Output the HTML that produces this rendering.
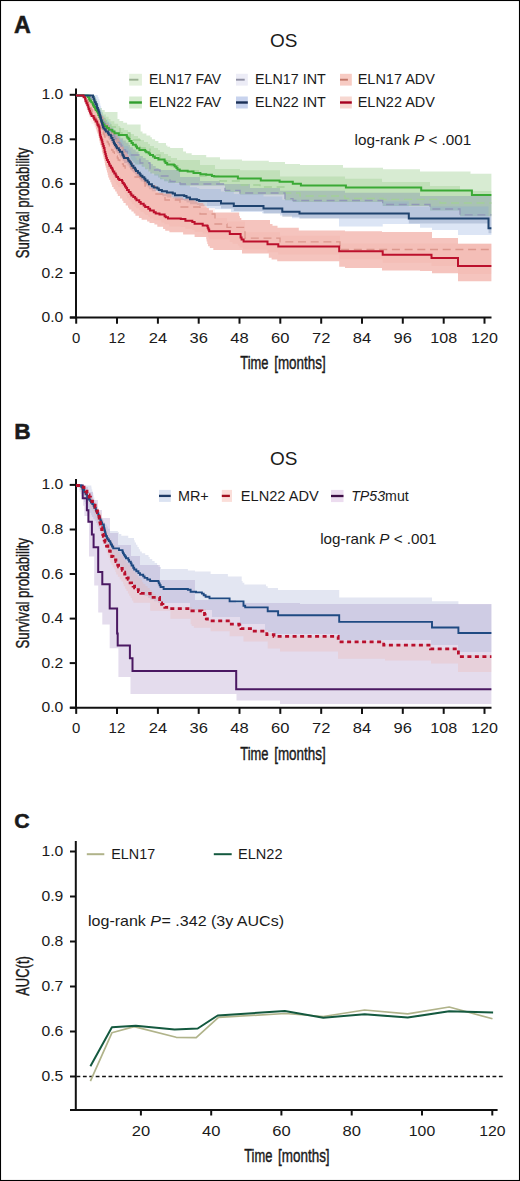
<!DOCTYPE html><html><head><meta charset="utf-8"><style>
html,body{margin:0;padding:0;background:#fff;}
svg{display:block;}
text{font-family:"Liberation Sans", sans-serif;fill:#1a1a1a;}
.c{font-family:"Liberation Sans", sans-serif;}
</style></head><body>
<svg width="520" height="1181" viewBox="0 0 520 1181">
<rect x="0" y="0" width="520" height="1181" fill="#fff"/>
<text x="13.9" y="33.4" font-size="23.0" text-anchor="start" font-weight="bold" font-style="normal" textLength="16.8" lengthAdjust="spacingAndGlyphs" stroke="#1a1a1a" stroke-width="0.50" >A</text>
<text x="14.3" y="438.6" font-size="21.5" text-anchor="start" font-weight="bold" font-style="normal" textLength="16.4" lengthAdjust="spacingAndGlyphs" stroke="#1a1a1a" stroke-width="0.50" >B</text>
<text x="14.3" y="828.4" font-size="20.5" text-anchor="start" font-weight="bold" font-style="normal" textLength="15.4" lengthAdjust="spacingAndGlyphs" stroke="#1a1a1a" stroke-width="0.50" >C</text>
<path d="M76.0 88.5 V318.5" stroke="#111" stroke-width="2" fill="none"/>
<path d="M70 317.5 H491.5" stroke="#111" stroke-width="2" fill="none"/>
<path d="M69.7 317.5 H76" stroke="#111" stroke-width="2"/>
<text x="63.3" y="322.0" font-size="15.3" text-anchor="end" font-weight="normal" font-style="normal" textLength="21.8" lengthAdjust="spacingAndGlyphs" >0.0</text>
<path d="M69.7 273.0 H76" stroke="#111" stroke-width="2"/>
<text x="63.3" y="277.5" font-size="15.3" text-anchor="end" font-weight="normal" font-style="normal" textLength="21.8" lengthAdjust="spacingAndGlyphs" >0.2</text>
<path d="M69.7 228.4 H76" stroke="#111" stroke-width="2"/>
<text x="63.3" y="232.9" font-size="15.3" text-anchor="end" font-weight="normal" font-style="normal" textLength="21.8" lengthAdjust="spacingAndGlyphs" >0.4</text>
<path d="M69.7 183.9 H76" stroke="#111" stroke-width="2"/>
<text x="63.3" y="188.4" font-size="15.3" text-anchor="end" font-weight="normal" font-style="normal" textLength="21.8" lengthAdjust="spacingAndGlyphs" >0.6</text>
<path d="M69.7 139.3 H76" stroke="#111" stroke-width="2"/>
<text x="63.3" y="143.8" font-size="15.3" text-anchor="end" font-weight="normal" font-style="normal" textLength="21.8" lengthAdjust="spacingAndGlyphs" >0.8</text>
<path d="M69.7 94.8 H76" stroke="#111" stroke-width="2"/>
<text x="63.3" y="99.3" font-size="15.3" text-anchor="end" font-weight="normal" font-style="normal" textLength="21.8" lengthAdjust="spacingAndGlyphs" >1.0</text>
<path d="M76.2 317.5 V323.7" stroke="#111" stroke-width="2"/>
<text x="76.2" y="343.1" font-size="14.5" text-anchor="middle" font-weight="normal" font-style="normal" textLength="8.3" lengthAdjust="spacingAndGlyphs" >0</text>
<path d="M117.0 317.5 V323.7" stroke="#111" stroke-width="2"/>
<text x="117.0" y="343.1" font-size="14.5" text-anchor="middle" font-weight="normal" font-style="normal" textLength="16.8" lengthAdjust="spacingAndGlyphs" >12</text>
<path d="M157.9 317.5 V323.7" stroke="#111" stroke-width="2"/>
<text x="157.9" y="343.1" font-size="14.5" text-anchor="middle" font-weight="normal" font-style="normal" textLength="18.4" lengthAdjust="spacingAndGlyphs" >24</text>
<path d="M198.7 317.5 V323.7" stroke="#111" stroke-width="2"/>
<text x="198.7" y="343.1" font-size="14.5" text-anchor="middle" font-weight="normal" font-style="normal" textLength="18.4" lengthAdjust="spacingAndGlyphs" >36</text>
<path d="M239.5 317.5 V323.7" stroke="#111" stroke-width="2"/>
<text x="239.5" y="343.1" font-size="14.5" text-anchor="middle" font-weight="normal" font-style="normal" textLength="18.4" lengthAdjust="spacingAndGlyphs" >48</text>
<path d="M280.3 317.5 V323.7" stroke="#111" stroke-width="2"/>
<text x="280.3" y="343.1" font-size="14.5" text-anchor="middle" font-weight="normal" font-style="normal" textLength="18.4" lengthAdjust="spacingAndGlyphs" >60</text>
<path d="M321.2 317.5 V323.7" stroke="#111" stroke-width="2"/>
<text x="321.2" y="343.1" font-size="14.5" text-anchor="middle" font-weight="normal" font-style="normal" textLength="18.4" lengthAdjust="spacingAndGlyphs" >72</text>
<path d="M362.0 317.5 V323.7" stroke="#111" stroke-width="2"/>
<text x="362.0" y="343.1" font-size="14.5" text-anchor="middle" font-weight="normal" font-style="normal" textLength="18.4" lengthAdjust="spacingAndGlyphs" >84</text>
<path d="M402.8 317.5 V323.7" stroke="#111" stroke-width="2"/>
<text x="402.8" y="343.1" font-size="14.5" text-anchor="middle" font-weight="normal" font-style="normal" textLength="18.4" lengthAdjust="spacingAndGlyphs" >96</text>
<path d="M443.7 317.5 V323.7" stroke="#111" stroke-width="2"/>
<text x="443.7" y="343.1" font-size="14.5" text-anchor="middle" font-weight="normal" font-style="normal" textLength="26.8" lengthAdjust="spacingAndGlyphs" >108</text>
<path d="M484.5 317.5 V323.7" stroke="#111" stroke-width="2"/>
<text x="484.5" y="343.1" font-size="14.5" text-anchor="middle" font-weight="normal" font-style="normal" textLength="26.8" lengthAdjust="spacingAndGlyphs" >120</text>
<text x="283.7" y="47.2" font-size="18.5" text-anchor="middle" font-weight="normal" font-style="normal" textLength="27.4" lengthAdjust="spacingAndGlyphs" >OS</text>
<g transform="translate(29.1,203) rotate(-90)"><text x="0.0" y="0.0" font-size="18.5" text-anchor="middle" font-weight="normal" font-style="normal" textLength="110.5" lengthAdjust="spacingAndGlyphs" stroke="#1a1a1a" stroke-width="0.42" >Survival probability</text></g>
<text x="240.3" y="369.2" font-size="18.8" text-anchor="start" font-weight="normal" font-style="normal" textLength="28.2" lengthAdjust="spacingAndGlyphs" stroke="#1a1a1a" stroke-width="0.45" >Time</text>
<text x="274.2" y="369.2" font-size="18.8" text-anchor="start" font-weight="normal" font-style="normal" textLength="51.5" lengthAdjust="spacingAndGlyphs" stroke="#1a1a1a" stroke-width="0.45" >[months]</text>
<text x="354.5" y="144.5" font-size="15" textLength="116.8" lengthAdjust="spacingAndGlyphs">log-rank <tspan font-style="italic">P</tspan> &lt; .001</text>
<rect x="129.2" y="73.8" width="12.7" height="11.8" fill="#e2f0db"/><path d="M129.2 79.7 H138.4" stroke="#9cb294" stroke-width="1.9"/>
<rect x="129.2" y="96.5" width="12.7" height="12.0" fill="#d6ebcf"/><path d="M129.2 102.5 H141.9" stroke="#2f9d2c" stroke-width="2.4"/>
<rect x="236.0" y="73.8" width="11.8" height="11.8" fill="#ececf6"/><path d="M236.0 79.7 H244.7" stroke="#8e8fa3" stroke-width="1.9"/>
<rect x="236.0" y="96.5" width="11.8" height="12.0" fill="#c8d3ee"/><path d="M236.0 102.5 H247.8" stroke="#1b3057" stroke-width="2.4"/>
<rect x="340.0" y="73.8" width="11.8" height="11.8" fill="#f7cbc3"/><path d="M340.0 79.7 H347.9" stroke="#c27668" stroke-width="1.9"/>
<rect x="340.0" y="96.5" width="11.8" height="12.0" fill="#f7d8d1"/><path d="M340.0 102.5 H351.8" stroke="#a5001f" stroke-width="2.4"/>
<text x="149.0" y="84.4" font-size="14.0" text-anchor="start" font-weight="normal" font-style="normal" textLength="72.0" lengthAdjust="spacingAndGlyphs" >ELN17 FAV</text>
<text x="149.0" y="106.9" font-size="14.0" text-anchor="start" font-weight="normal" font-style="normal" textLength="72.0" lengthAdjust="spacingAndGlyphs" >ELN22 FAV</text>
<text x="255.0" y="84.4" font-size="14.0" text-anchor="start" font-weight="normal" font-style="normal" textLength="70.8" lengthAdjust="spacingAndGlyphs" >ELN17 INT</text>
<text x="255.0" y="106.9" font-size="14.0" text-anchor="start" font-weight="normal" font-style="normal" textLength="70.8" lengthAdjust="spacingAndGlyphs" >ELN22 INT</text>
<text x="357.7" y="84.4" font-size="14.0" text-anchor="start" font-weight="normal" font-style="normal" textLength="77.3" lengthAdjust="spacingAndGlyphs" >ELN17 ADV</text>
<text x="357.7" y="106.9" font-size="14.0" text-anchor="start" font-weight="normal" font-style="normal" textLength="77.3" lengthAdjust="spacingAndGlyphs" >ELN22 ADV</text>
<g>
<path d="M76.0 95.0 H88.0 V95.0 H89.0 V96.5 H91.0 V98.0 H92.0 V100.0 H94.0 V102.0 H96.0 V104.0 H98.0 V106.0 H99.3 V108.0 H102.0 V110.0 H104.7 V112.0 H117.5 V119.0 H119.4 V120.9 H123.2 V122.7 H127.1 V124.6 H140.6 V131.5 H142.5 V133.4 H146.4 V135.4 H150.3 V137.3 H151.9 V139.2 H155.1 V141.1 H158.4 V143.0 H166.0 V145.4 H167.4 V146.8 H170.1 V148.1 H183.1 V151.5 H186.0 V153.2 H191.7 V155.0 H206.2 V157.3 H220.0 V159.5 H242.0 V160.8 H268.8 V162.1 H285.0 V164.0 H300.0 V165.0 H343.0 V167.8 H383.0 V169.2 H420.0 V171.5 H470.5 V173.7 H491.4 V216.3 H460.0 V210.5 H430.0 V206.0 H382.7 V202.0 H293.0 V200.2 H285.0 V194.5 H240.0 V191.9 H225.0 V185.5 H180.0 V183.0 H168.0 V181.2 H164.0 V179.3 H160.0 V177.5 H158.1 V175.5 H154.2 V173.5 H150.3 V171.5 H148.3 V169.2 H145.0 V166.8 H141.7 V164.5 H140.0 V164.6 H135.1 V162.7 H133.3 V160.7 H131.4 V158.8 H130.5 V156.5 H128.8 V154.2 H127.9 V153.1 H123.9 V150.8 H122.8 V148.5 H122.2 V146.8 H119.9 V145.0 H118.8 V143.2 H116.7 V141.5 H115.7 V139.2 H114.3 V136.9 H113.6 V135.0 H112.5 V133.1 H111.4 V131.2 H110.8 V129.8 H108.8 V128.3 H107.9 V126.6 H105.8 V124.8 H104.7 V123.4 H103.4 V121.9 H102.8 V119.6 H102.1 V117.3 H101.4 V115.0 H101.0 V112.7 H100.3 V110.4 H99.6 V108.1 H99.2 V105.8 H98.3 V103.5 H97.3 V101.2 H96.8 V99.3 H95.9 V97.3 H95.0 V95.4 H94.5 V95.5 H92.7 V95.5 H76.0 Z" fill="#7fc06f" fill-opacity="0.31" stroke="none"/>
<path d="M76.0 95.0 H90.0 V97.0 H90.8 V99.2 H92.5 V101.3 H94.2 V103.5 H95.8 V105.7 H97.5 V107.8 H99.2 V110.0 H100.5 V112.2 H103.2 V114.5 H105.9 V116.8 H108.6 V119.0 H110.5 V121.3 H114.3 V123.7 H118.1 V126.0 H120.1 V128.0 H124.1 V130.0 H128.0 V132.0 H130.0 V134.0 H134.0 V136.0 H138.0 V138.0 H140.0 V140.0 H144.0 V142.0 H148.0 V144.0 H150.0 V146.0 H154.0 V148.0 H158.0 V150.0 H160.0 V152.0 H164.0 V154.0 H168.0 V156.0 H171.0 V158.0 H177.0 V160.0 H200.0 V165.0 H215.0 V169.0 H240.0 V170.2 H280.0 V176.5 H345.0 V178.8 H382.0 V181.9 H430.0 V186.0 H460.0 V191.0 H491.4 V216.3 H460.0 V210.5 H430.0 V206.0 H382.7 V202.0 H293.0 V200.2 H285.0 V194.5 H240.0 V191.9 H225.0 V185.5 H180.0 V183.0 H168.0 V181.2 H164.0 V179.3 H160.0 V177.5 H158.1 V175.5 H154.2 V173.5 H150.3 V171.5 H148.3 V169.2 H145.0 V166.8 H141.7 V164.5 H140.0 V164.6 H135.1 V162.7 H133.3 V160.7 H131.4 V158.8 H130.5 V156.5 H128.8 V154.2 H127.9 V153.1 H123.9 V150.8 H122.8 V148.5 H122.2 V146.8 H119.9 V145.0 H118.8 V143.2 H116.7 V141.5 H115.7 V139.2 H114.3 V136.9 H113.6 V135.0 H112.5 V133.1 H111.4 V131.2 H110.8 V129.8 H108.8 V128.3 H107.9 V126.6 H105.8 V124.8 H104.7 V123.4 H103.4 V121.9 H102.8 V119.6 H102.1 V117.3 H101.4 V115.0 H101.0 V112.7 H100.3 V110.4 H99.6 V108.1 H99.2 V105.8 H98.3 V103.5 H97.3 V101.2 H96.8 V99.3 H95.9 V97.3 H95.0 V95.4 H94.5 V95.5 H92.7 V95.5 H76.0 Z" fill="#7fc06f" fill-opacity="0.25" stroke="none"/>
<path d="M76.0 95.5 H92.0 V95.5 H92.5 V97.2 H93.5 V99.0 H94.0 V101.3 H95.1 V103.7 H96.2 V106.0 H97.3 V108.3 H98.4 V110.7 H99.5 V113.0 H100.5 V115.4 H102.6 V117.8 H104.7 V120.2 H106.8 V122.6 H108.9 V125.0 H110.1 V127.2 H112.3 V129.4 H114.5 V131.6 H116.7 V133.8 H118.9 V136.0 H120.3 V138.2 H123.1 V140.5 H125.8 V142.8 H128.6 V145.0 H130.0 V147.2 H132.9 V149.5 H135.7 V151.8 H138.6 V154.0 H140.0 V156.0 H142.9 V158.0 H145.7 V160.0 H148.6 V162.0 H150.0 V164.0 H152.9 V166.0 H155.7 V168.0 H158.6 V170.0 H180.0 V177.0 H200.0 V181.0 H220.0 V184.0 H250.0 V188.0 H280.0 V190.7 H345.0 V192.7 H420.0 V196.0 H491.4 V233.3 H488.5 V223.6 H408.8 V218.6 H299.5 V216.7 H282.3 V213.4 H263.5 V211.1 H233.8 V208.5 H221.0 V206.1 H199.2 V204.9 H196.9 V204.3 H190.0 V202.6 H186.5 V200.9 H184.2 V200.3 H175.0 V198.6 H172.7 V197.4 H166.9 V196.3 H162.4 V194.9 H160.2 V193.6 H159.1 V191.3 H151.8 V189.3 H148.9 V187.3 H147.5 V185.6 H145.0 V183.8 H143.7 V181.5 H140.7 V179.2 H139.2 V176.9 H136.5 V174.6 H135.1 V172.7 H133.3 V170.7 H131.4 V168.8 H130.5 V166.5 H128.8 V164.2 H127.9 V163.1 H123.9 V160.8 H122.8 V158.5 H122.2 V156.8 H119.9 V155.0 H118.8 V153.2 H116.7 V151.5 H115.7 V149.2 H114.3 V146.9 H113.6 V145.0 H112.5 V143.1 H111.4 V141.2 H110.8 V139.8 H108.8 V138.3 H107.9 V136.6 H105.8 V134.8 H104.7 V133.4 H103.4 V131.9 H102.8 V129.6 H102.1 V127.3 H101.4 V125.0 H101.0 V122.7 H100.3 V120.4 H99.6 V118.1 H99.2 V115.8 H98.2 V113.5 H97.3 V111.2 H96.8 V109.3 H95.8 V107.3 H94.8 V105.4 H94.3 V102.9 H93.8 V100.5 H93.4 V98.0 H92.9 V95.5 H92.7 V95.5 H76.0 Z" fill="#8796b0" fill-opacity="0.41" stroke="none"/>
<path d="M76.0 95.5 H92.7 V95.5 H94.5 V95.0 H97.3 V95.0 H97.7 V97.0 H98.5 V99.1 H99.3 V101.1 H99.7 V103.4 H100.3 V105.7 H101.1 V108.0 H101.4 V110.3 H102.1 V112.6 H102.8 V114.9 H103.4 V116.4 H104.7 V117.8 H105.8 V119.6 H107.9 V121.3 H108.8 V122.8 H110.8 V124.2 H111.4 V126.1 H112.5 V128.0 H113.6 V129.9 H114.3 V132.2 H115.7 V134.5 H116.7 V136.2 H118.8 V138.0 H119.9 V139.8 H122.2 V141.5 H122.8 V143.8 H123.9 V146.1 H127.9 V147.2 H128.8 V149.5 H130.5 V151.8 H131.4 V153.7 H133.3 V155.7 H135.1 V157.6 H136.5 V159.9 H139.2 V162.2 H140.7 V164.5 H143.7 V166.8 H145.0 V168.6 H147.5 V170.3 H148.9 V172.3 H151.8 V174.3 H159.1 V176.6 H160.2 V177.9 H162.4 V179.3 H166.9 V180.4 H172.7 V181.6 H175.0 V183.3 H184.2 V183.9 H186.5 V185.6 H190.0 V187.3 H196.9 V187.9 H199.2 V189.1 H221.0 V191.5 H233.8 V194.1 H263.5 V196.4 H282.3 V199.7 H299.5 V201.6 H408.8 V206.6 H488.5 V216.3 H491.4 V235.0 H458.0 V230.0 H432.0 V227.8 H420.0 V224.0 H382.7 V226.5 H339.0 V218.3 H292.0 V215.6 H280.0 V213.3 H262.0 V211.9 H231.0 V209.2 H215.0 V208.0 H207.0 V202.3 H195.0 V200.0 H180.2 V198.5 H174.8 V197.0 H172.0 V193.0 H158.1 V190.7 H154.3 V188.3 H150.5 V186.0 H148.6 V184.0 H145.8 V182.0 H143.1 V180.0 H140.3 V178.0 H138.9 V176.0 H136.7 V174.0 H134.5 V172.0 H132.2 V170.0 H130.0 V168.0 H128.9 V165.6 H126.8 V163.2 H124.6 V160.8 H122.5 V158.4 H120.3 V156.0 H119.2 V153.7 H117.7 V151.4 H116.2 V149.1 H114.7 V146.9 H113.2 V144.6 H111.7 V142.3 H110.2 V140.0 H109.4 V137.6 H108.3 V135.1 H107.1 V132.7 H106.0 V130.2 H104.8 V127.8 H103.7 V125.3 H102.5 V122.9 H101.4 V120.4 H100.2 V118.0 H99.6 V115.7 H98.9 V113.3 H98.2 V111.0 H97.4 V108.7 H96.7 V106.3 H96.0 V104.0 H95.6 V101.8 H94.9 V99.5 H94.1 V97.2 H93.4 V95.0 H93.0 V95.0 H76.0 Z" fill="#88a6dc" fill-opacity="0.29" stroke="none"/>
<path d="M76.0 95.5 H84.0 V95.5 H85.0 V97.3 H87.0 V99.2 H89.0 V101.0 H90.0 V102.7 H92.0 V104.3 H94.0 V106.0 H95.0 V108.0 H97.0 V110.0 H99.0 V112.0 H99.9 V114.0 H101.6 V116.0 H103.4 V118.0 H105.1 V120.0 H105.8 V122.0 H107.2 V124.0 H108.6 V126.0 H109.9 V128.0 H111.3 V130.0 H112.2 V132.0 H113.9 V134.0 H115.7 V136.0 H117.4 V138.0 H119.1 V140.0 H119.8 V142.2 H121.2 V144.5 H122.5 V146.8 H123.9 V149.0 H125.2 V151.2 H126.6 V153.5 H128.0 V155.8 H129.3 V158.0 H130.1 V160.3 H131.6 V162.6 H133.1 V164.9 H134.7 V167.1 H136.2 V169.4 H137.7 V171.7 H139.2 V174.0 H140.3 V176.4 H142.5 V178.8 H144.6 V181.2 H146.8 V183.6 H148.9 V186.0 H150.3 V187.9 H153.1 V189.8 H155.8 V191.6 H158.6 V193.5 H171.5 V197.5 H183.1 V199.0 H194.6 V201.5 H197.5 V203.1 H203.3 V204.6 H204.5 V206.3 H206.8 V208.0 H208.9 V210.2 H213.0 V212.5 H239.2 V216.0 H239.9 V218.0 H241.3 V220.0 H270.0 V224.0 H272.5 V225.8 H277.5 V227.7 H298.8 V230.4 H345.0 V231.2 H382.0 V232.0 H432.0 V238.0 H458.0 V243.7 H491.4 V281.2 H458.0 V273.2 H432.0 V271.0 H420.0 V270.4 H382.0 V268.0 H345.0 V266.7 H339.2 V261.3 H277.2 V259.5 H271.6 V257.7 H268.8 V253.6 H242.0 V250.0 H213.3 V248.1 H209.8 V246.2 H208.1 V243.9 H207.3 V241.5 H206.6 V239.2 H206.2 V236.9 H194.6 V234.6 H183.1 V232.3 H169.4 V230.7 H165.2 V229.0 H163.1 V226.8 H157.3 V224.5 H154.4 V223.0 H149.5 V221.5 H147.1 V219.8 H141.6 V218.1 H138.9 V215.8 H135.4 V213.5 H133.7 V211.6 H131.4 V209.6 H129.1 V207.7 H128.0 V205.4 H125.7 V203.1 H123.4 V200.8 H122.2 V198.5 H120.0 V196.1 H117.8 V193.8 H116.7 V191.5 H115.2 V189.2 H113.6 V186.9 H112.1 V184.6 H111.3 V182.2 H110.3 V179.8 H109.2 V177.4 H108.2 V175.0 H107.7 V172.6 H107.0 V170.2 H106.4 V167.8 H105.7 V165.4 H105.0 V163.0 H104.7 V160.8 H104.2 V158.7 H103.6 V156.5 H103.1 V154.3 H102.5 V152.2 H101.9 V150.0 H101.7 V147.6 H101.0 V145.2 H100.3 V142.8 H99.7 V140.4 H99.0 V138.0 H98.7 V135.8 H98.0 V133.6 H97.3 V131.4 H96.6 V129.2 H95.9 V127.0 H95.6 V124.8 H94.7 V122.5 H93.8 V120.2 H93.0 V118.0 H92.6 V116.0 H91.7 V114.0 H90.8 V112.0 H89.9 V110.0 H89.4 V107.7 H88.3 V105.3 H87.2 V103.0 H86.6 V101.1 H85.9 V99.2 H85.1 V97.4 H84.4 V95.5 H84.0 V95.5 H76.0 Z" fill="#ec8c80" fill-opacity="0.51" stroke="none"/>
<path d="M76.0 95.5 H85.0 V95.5 H86.2 V97.8 H88.8 V100.0 H89.4 V102.0 H90.6 V104.0 H91.9 V106.0 H93.1 V108.0 H94.4 V110.0 H94.9 V112.0 H96.1 V114.0 H97.2 V116.0 H98.3 V118.0 H99.4 V120.0 H100.0 V122.0 H101.1 V124.0 H102.2 V126.0 H103.3 V128.0 H104.4 V130.0 H105.0 V132.0 H106.1 V134.0 H107.2 V136.0 H108.3 V138.0 H109.4 V140.0 H110.3 V142.4 H112.0 V144.8 H113.7 V147.2 H115.4 V149.6 H117.1 V152.0 H118.0 V154.0 H119.8 V156.0 H121.6 V158.0 H123.3 V160.0 H125.1 V162.0 H126.4 V164.2 H128.8 V166.5 H131.3 V168.8 H133.8 V171.0 H135.2 V173.2 H138.0 V175.5 H140.8 V177.8 H143.6 V180.0 H145.0 V182.0 H147.9 V184.0 H150.7 V186.0 H153.6 V188.0 H155.5 V190.0 H159.3 V192.0 H163.1 V194.0 H180.0 V201.0 H200.0 V208.0 H215.0 V218.0 H227.0 V221.4 H245.0 V232.2 H280.0 V235.8 H340.0 V243.5 H491.4 V274.0 H458.0 V266.1 H431.5 V262.7 H382.7 V259.2 H339.2 V254.6 H278.3 V252.2 H267.5 V249.5 H242.9 V247.5 H239.6 V245.5 H237.9 V243.8 H232.5 V242.1 H229.8 V239.2 H209.2 V237.5 H208.4 V235.7 H207.7 V234.0 H207.3 V233.4 H202.7 V231.7 H194.6 V229.9 H192.3 V228.8 H185.4 V227.0 H180.8 V226.5 H169.2 V224.2 H164.6 V222.6 H161.4 V220.3 H153.8 V218.6 H150.1 V216.8 H148.3 V215.1 H145.2 V213.4 H143.7 V211.7 H140.6 V209.9 H139.1 V208.2 H136.1 V206.5 H134.6 V204.2 H131.9 V201.8 H130.5 V199.9 H128.8 V198.0 H127.1 V196.1 H126.2 V193.8 H125.0 V191.5 H123.9 V189.2 H123.3 V186.8 H118.0 V185.1 H116.5 V183.4 H115.7 V181.5 H114.3 V179.5 H112.9 V177.6 H112.2 V175.7 H110.9 V173.7 H109.6 V171.8 H109.0 V169.9 H107.9 V168.0 H106.9 V166.1 H106.3 V164.1 H105.8 V162.1 H105.3 V160.0 H104.7 V158.0 H104.5 V156.0 H103.8 V153.9 H103.1 V151.9 H102.4 V149.9 H102.1 V147.6 H101.3 V145.3 H100.4 V143.0 H100.0 V140.7 H99.6 V138.4 H99.3 V136.1 H99.1 V133.8 H97.8 V131.5 H97.2 V129.6 H95.7 V127.6 H94.2 V125.7 H93.5 V124.0 H91.5 V122.2 H90.6 V119.9 H89.7 V117.6 H88.8 V115.3 H88.3 V113.3 H87.5 V111.2 H86.7 V109.2 H85.9 V107.2 H85.5 V104.9 H84.9 V102.5 H84.3 V100.2 H83.8 V97.8 H83.2 V95.5 H82.9 V95.5 H76.0 Z" fill="#ec8c80" fill-opacity="0.10" stroke="none"/>
</g>
<path d="M76.0 95.5 H89.0 V95.5 H89.6 V97.6 H90.8 V99.7 H92.0 V101.8 H93.2 V103.9 H94.4 V106.0 H95.1 V108.0 H96.5 V110.0 H97.9 V112.0 H99.3 V114.0 H100.1 V115.8 H101.8 V117.5 H103.5 V119.2 H105.2 V121.0 H106.3 V123.0 H108.6 V125.0 H110.9 V127.0 H120.0 V133.0 H130.0 V140.0 H140.0 V148.0 H150.0 V155.0 H160.0 V161.0 H170.0 V166.0 H180.0 V171.0 H200.0 V176.0 H220.0 V181.0 H240.0 V185.0 H260.0 V187.0 H285.0 V193.0 H300.0 V196.0 H345.0 V198.5 H383.0 V199.3 H440.0 V203.0 H491.4" stroke="#a3cf98" stroke-width="1.3" fill="none" stroke-dasharray="8,4.7"/>
<path d="M76.0 95.5 H90.0 V95.5 H90.5 V97.6 H91.5 V99.7 H92.5 V101.8 H93.5 V103.8 H94.5 V105.9 H95.5 V108.0 H96.2 V110.0 H97.5 V112.0 H98.8 V114.0 H100.0 V116.0 H101.3 V118.0 H102.0 V120.0 H103.3 V122.0 H104.7 V124.0 H106.0 V126.0 H107.3 V128.0 H108.1 V129.8 H109.6 V131.6 H111.2 V133.4 H112.7 V135.2 H114.2 V137.0 H115.0 V138.8 H116.6 V140.6 H118.1 V142.4 H119.7 V144.2 H121.2 V146.0 H122.1 V147.8 H123.9 V149.6 H125.6 V151.4 H127.4 V153.2 H129.1 V155.0 H140.0 V163.0 H150.0 V170.0 H160.0 V176.0 H170.0 V181.5 H180.0 V184.0 H225.0 V190.4 H240.0 V193.0 H285.0 V198.7 H293.0 V200.5 H382.7 V204.5 H430.0 V209.0 H460.0 V214.8 H491.4" stroke="#9197b8" stroke-width="1.3" fill="none" stroke-dasharray="8,4.7"/>
<path d="M76.0 95.5 H85.0 V95.5 H85.5 V97.6 H86.5 V99.7 H87.5 V101.8 H88.5 V103.9 H89.5 V106.0 H90.0 V108.0 H91.2 V110.0 H92.2 V112.0 H93.3 V114.0 H94.5 V116.0 H95.0 V118.0 H96.1 V120.0 H97.2 V122.0 H98.3 V124.0 H99.4 V126.0 H100.0 V128.0 H101.1 V130.0 H102.2 V132.0 H103.3 V134.0 H104.4 V136.0 H105.0 V138.0 H106.1 V140.0 H107.2 V142.0 H108.3 V144.0 H109.4 V146.0 H110.2 V148.0 H111.6 V150.0 H113.0 V152.0 H114.4 V154.0 H115.9 V156.0 H117.3 V158.0 H118.2 V160.0 H119.9 V162.0 H121.6 V164.0 H123.4 V166.0 H125.1 V168.0 H135.0 V177.0 H145.0 V186.0 H155.0 V194.0 H165.0 V200.0 H180.0 V207.0 H200.0 V214.0 H215.0 V224.0 H227.0 V227.4 H245.0 V238.2 H280.0 V241.8 H340.0 V249.5 H491.4" stroke="#dc978d" stroke-width="1.3" fill="none" stroke-dasharray="8,4.7"/>
<path d="M76.0 95.5 H87.0 V95.5 H87.7 V97.3 H89.1 V99.2 H89.8 V100.7 H91.2 V102.3 H92.6 V103.8 H93.1 V105.4 H94.1 V106.9 H95.1 V108.5 H95.7 V110.0 H96.8 V111.6 H97.9 V113.1 H98.4 V115.0 H99.4 V116.9 H100.3 V118.8 H100.9 V120.7 H102.0 V122.7 H103.1 V124.6 H104.4 V126.3 H107.0 V128.1 H108.8 V129.8 H112.3 V131.5 H114.5 V133.2 H118.8 V135.0 H126.8 V136.5 H127.4 V137.8 H128.5 V139.0 H129.5 V141.1 H131.5 V143.1 H132.9 V144.8 H135.8 V146.5 H137.0 V148.2 H139.4 V150.0 H145.2 V151.2 H146.3 V152.3 H148.7 V153.5 H150.1 V155.1 H153.0 V156.6 H154.8 V158.1 H158.4 V159.5 H164.6 V161.6 H165.5 V163.1 H167.2 V164.5 H173.8 V165.0 H174.7 V166.4 H176.4 V167.9 H177.5 V169.4 H179.7 V170.8 H187.7 V171.4 H193.5 V173.1 H200.4 V174.3 H206.2 V174.8 H211.9 V176.0 H214.2 V176.6 H237.9 V178.4 H260.8 V180.4 H279.6 V181.8 H292.8 V183.8 H300.9 V185.4 H345.9 V187.4 H421.2 V190.4 H471.9 V195.1 H491.4" stroke="#3aa935" stroke-width="2.0" fill="none"/>
<path d="M76.0 95.5 H92.7 V95.5 H93.0 V97.1 H93.6 V98.8 H94.2 V100.4 H94.7 V102.3 H95.8 V104.3 H96.8 V106.2 H97.1 V107.9 H97.9 V109.7 H98.6 V111.4 H99.3 V113.1 H99.6 V114.8 H100.1 V116.5 H100.6 V118.3 H101.1 V120.0 H101.4 V121.7 H101.9 V123.5 H102.4 V125.2 H102.9 V126.9 H103.5 V128.4 H104.8 V129.8 H105.8 V131.6 H107.9 V133.3 H108.8 V134.8 H110.8 V136.2 H111.4 V138.1 H112.5 V140.0 H113.6 V141.9 H114.0 V143.4 H115.0 V145.0 H115.9 V146.5 H116.9 V148.2 H118.8 V150.0 H119.9 V151.8 H122.2 V153.5 H122.6 V155.0 H123.3 V156.6 H124.1 V158.1 H127.9 V159.2 H128.5 V160.7 H129.7 V162.3 H130.8 V163.8 H131.7 V165.7 H133.4 V167.7 H135.1 V169.6 H136.0 V171.1 H137.9 V172.7 H139.7 V174.2 H140.6 V175.7 H142.4 V177.3 H144.3 V178.8 H145.4 V180.6 H147.6 V182.3 H149.0 V184.3 H151.9 V186.3 H153.7 V187.4 H157.3 V188.6 H158.8 V189.9 H161.9 V191.3 H166.9 V192.4 H172.7 V193.6 H175.0 V195.3 H184.2 V195.9 H186.5 V197.6 H190.0 V199.3 H196.9 V199.9 H199.2 V201.1 H221.0 V203.5 H233.8 V206.1 H263.5 V208.4 H282.3 V211.7 H299.5 V213.6 H408.8 V218.6 H488.5 V228.3 H491.4" stroke="#1f436f" stroke-width="2.0" fill="none"/>
<path d="M76.0 95.5 H82.9 V95.5 H83.6 V97.3 H85.1 V99.2 H85.5 V101.2 H86.4 V103.2 H87.3 V105.3 H88.2 V107.3 H88.6 V109.0 H89.3 V110.8 H90.0 V112.5 H90.7 V114.2 H91.6 V116.0 H93.5 V117.7 H94.3 V119.6 H95.7 V121.6 H97.2 V123.5 H97.6 V125.0 H98.4 V126.6 H99.3 V128.1 H99.4 V129.8 H99.6 V131.6 H99.9 V133.3 H100.1 V135.0 H100.4 V136.7 H101.0 V138.4 H101.6 V140.2 H102.2 V141.9 H102.5 V143.9 H103.2 V145.9 H103.8 V148.0 H104.5 V150.0 H104.7 V152.0 H105.3 V154.1 H105.8 V156.1 H106.3 V158.1 H106.9 V160.0 H107.9 V161.9 H109.0 V163.8 H109.6 V165.7 H110.9 V167.7 H112.2 V169.6 H112.9 V171.5 H114.3 V173.5 H115.7 V175.4 H116.5 V177.1 H118.0 V178.8 H119.3 V180.0 H122.0 V181.2 H122.6 V182.9 H123.8 V184.6 H125.0 V186.4 H126.2 V188.1 H127.1 V190.0 H128.8 V191.9 H130.5 V193.8 H131.4 V195.4 H133.3 V196.9 H135.1 V198.5 H136.5 V200.2 H139.2 V201.9 H140.7 V203.7 H143.7 V205.4 H145.2 V207.1 H148.3 V208.8 H150.1 V210.6 H153.8 V212.3 H155.7 V213.4 H159.5 V214.6 H164.6 V216.2 H165.8 V217.3 H168.0 V218.5 H180.8 V219.0 H185.4 V220.8 H192.3 V221.9 H194.6 V223.7 H202.7 V225.4 H207.3 V226.0 H207.7 V227.7 H208.4 V229.5 H209.2 V231.2 H229.8 V234.1 H240.6 V237.5 H241.6 V239.5 H243.6 V241.5 H267.5 V244.2 H278.3 V246.6 H339.2 V251.2 H382.7 V254.7 H431.5 V258.1 H458.0 V266.0 H491.4" stroke="#bc102c" stroke-width="2.0" fill="none"/>
<path d="M76.0 479.0 V708.7" stroke="#111" stroke-width="2" fill="none"/>
<path d="M70 707.7 H491.5" stroke="#111" stroke-width="2" fill="none"/>
<path d="M69.7 707.7 H76" stroke="#111" stroke-width="2"/>
<text x="63.3" y="712.2" font-size="15.3" text-anchor="end" font-weight="normal" font-style="normal" textLength="21.8" lengthAdjust="spacingAndGlyphs" >0.0</text>
<path d="M69.7 663.1 H76" stroke="#111" stroke-width="2"/>
<text x="63.3" y="667.6" font-size="15.3" text-anchor="end" font-weight="normal" font-style="normal" textLength="21.8" lengthAdjust="spacingAndGlyphs" >0.2</text>
<path d="M69.7 618.6 H76" stroke="#111" stroke-width="2"/>
<text x="63.3" y="623.1" font-size="15.3" text-anchor="end" font-weight="normal" font-style="normal" textLength="21.8" lengthAdjust="spacingAndGlyphs" >0.4</text>
<path d="M69.7 574.0 H76" stroke="#111" stroke-width="2"/>
<text x="63.3" y="578.5" font-size="15.3" text-anchor="end" font-weight="normal" font-style="normal" textLength="21.8" lengthAdjust="spacingAndGlyphs" >0.6</text>
<path d="M69.7 529.5 H76" stroke="#111" stroke-width="2"/>
<text x="63.3" y="534.0" font-size="15.3" text-anchor="end" font-weight="normal" font-style="normal" textLength="21.8" lengthAdjust="spacingAndGlyphs" >0.8</text>
<path d="M69.7 484.9 H76" stroke="#111" stroke-width="2"/>
<text x="63.3" y="489.4" font-size="15.3" text-anchor="end" font-weight="normal" font-style="normal" textLength="21.8" lengthAdjust="spacingAndGlyphs" >1.0</text>
<path d="M76.2 707.7 V713.9" stroke="#111" stroke-width="2"/>
<text x="76.2" y="733.3" font-size="14.5" text-anchor="middle" font-weight="normal" font-style="normal" textLength="8.3" lengthAdjust="spacingAndGlyphs" >0</text>
<path d="M117.0 707.7 V713.9" stroke="#111" stroke-width="2"/>
<text x="117.0" y="733.3" font-size="14.5" text-anchor="middle" font-weight="normal" font-style="normal" textLength="16.8" lengthAdjust="spacingAndGlyphs" >12</text>
<path d="M157.9 707.7 V713.9" stroke="#111" stroke-width="2"/>
<text x="157.9" y="733.3" font-size="14.5" text-anchor="middle" font-weight="normal" font-style="normal" textLength="18.4" lengthAdjust="spacingAndGlyphs" >24</text>
<path d="M198.7 707.7 V713.9" stroke="#111" stroke-width="2"/>
<text x="198.7" y="733.3" font-size="14.5" text-anchor="middle" font-weight="normal" font-style="normal" textLength="18.4" lengthAdjust="spacingAndGlyphs" >36</text>
<path d="M239.5 707.7 V713.9" stroke="#111" stroke-width="2"/>
<text x="239.5" y="733.3" font-size="14.5" text-anchor="middle" font-weight="normal" font-style="normal" textLength="18.4" lengthAdjust="spacingAndGlyphs" >48</text>
<path d="M280.3 707.7 V713.9" stroke="#111" stroke-width="2"/>
<text x="280.3" y="733.3" font-size="14.5" text-anchor="middle" font-weight="normal" font-style="normal" textLength="18.4" lengthAdjust="spacingAndGlyphs" >60</text>
<path d="M321.2 707.7 V713.9" stroke="#111" stroke-width="2"/>
<text x="321.2" y="733.3" font-size="14.5" text-anchor="middle" font-weight="normal" font-style="normal" textLength="18.4" lengthAdjust="spacingAndGlyphs" >72</text>
<path d="M362.0 707.7 V713.9" stroke="#111" stroke-width="2"/>
<text x="362.0" y="733.3" font-size="14.5" text-anchor="middle" font-weight="normal" font-style="normal" textLength="18.4" lengthAdjust="spacingAndGlyphs" >84</text>
<path d="M402.8 707.7 V713.9" stroke="#111" stroke-width="2"/>
<text x="402.8" y="733.3" font-size="14.5" text-anchor="middle" font-weight="normal" font-style="normal" textLength="18.4" lengthAdjust="spacingAndGlyphs" >96</text>
<path d="M443.7 707.7 V713.9" stroke="#111" stroke-width="2"/>
<text x="443.7" y="733.3" font-size="14.5" text-anchor="middle" font-weight="normal" font-style="normal" textLength="26.8" lengthAdjust="spacingAndGlyphs" >108</text>
<path d="M484.5 707.7 V713.9" stroke="#111" stroke-width="2"/>
<text x="484.5" y="733.3" font-size="14.5" text-anchor="middle" font-weight="normal" font-style="normal" textLength="26.8" lengthAdjust="spacingAndGlyphs" >120</text>
<text x="283.7" y="465.3" font-size="18.5" text-anchor="middle" font-weight="normal" font-style="normal" textLength="27.4" lengthAdjust="spacingAndGlyphs" >OS</text>
<g transform="translate(29.1,593.2) rotate(-90)"><text x="0.0" y="0.0" font-size="18.5" text-anchor="middle" font-weight="normal" font-style="normal" textLength="110.5" lengthAdjust="spacingAndGlyphs" stroke="#1a1a1a" stroke-width="0.42" >Survival probability</text></g>
<text x="240.3" y="759.7" font-size="18.8" text-anchor="start" font-weight="normal" font-style="normal" textLength="28.2" lengthAdjust="spacingAndGlyphs" stroke="#1a1a1a" stroke-width="0.45" >Time</text>
<text x="274.2" y="759.7" font-size="18.8" text-anchor="start" font-weight="normal" font-style="normal" textLength="51.5" lengthAdjust="spacingAndGlyphs" stroke="#1a1a1a" stroke-width="0.45" >[months]</text>
<text x="320.2" y="544.4" font-size="15" textLength="116.3" lengthAdjust="spacingAndGlyphs">log-rank <tspan font-style="italic">P</tspan> &lt; .001</text>
<rect x="159.0" y="489.9" width="11.8" height="12.0" fill="#dbe3f2"/><path d="M159.0 495.9 H170.8" stroke="#1d3a66" stroke-width="2.3"/>
<rect x="221.8" y="489.9" width="10.2" height="12.0" fill="#fbded9"/><path d="M221.8 495.9 H229.9" stroke="#a3101f" stroke-width="2.3"/>
<rect x="331.0" y="489.9" width="12.5" height="12.2" fill="#ecdcef"/><path d="M331.0 496.0 H343.5" stroke="#3c0c44" stroke-width="2.3"/>
<text x="177.9" y="500.8" font-size="14.0" text-anchor="start" font-weight="normal" font-style="normal" textLength="30.8" lengthAdjust="spacingAndGlyphs" >MR+</text>
<text x="240.8" y="500.8" font-size="14.0" text-anchor="start" font-weight="normal" font-style="normal" textLength="77.9" lengthAdjust="spacingAndGlyphs" >ELN22 ADV</text>
<text x="351.2" y="500.8" font-size="14" textLength="57.6" lengthAdjust="spacingAndGlyphs"><tspan font-style="italic">TP53</tspan>mut</text>
<path d="M76.0 485.5 H84.0 V487.0 H88.0 V492.0 H93.0 V500.0 H98.0 V510.0 H102.0 V518.0 H110.0 V533.0 H118.0 V545.0 H131.0 V556.0 H140.0 V565.0 H160.0 V580.0 H195.0 V600.0 H236.0 V603.0 H300.0 V604.0 H491.4 V704.0 H280.0 V700.4 H236.5 V693.9 H130.5 V677.1 H118.4 V648.2 H109.7 V624.6 H102.3 V612.5 H98.2 V585.6 H94.2 V556.5 H89.0 V516.1 H84.4 V505.7 H83.2 V490.0 H80.3 V485.5 H76.0 Z" fill="#b59fcf" fill-opacity="0.37" stroke="none"/>
<path d="M76.0 485.5 H85.5 V485.5 H91.3 V487.2 H91.6 V489.2 H92.2 V491.2 H92.7 V493.3 H93.3 V495.3 H93.7 V497.6 H94.4 V499.9 H95.2 V502.2 H96.0 V504.5 H96.7 V506.8 H97.2 V509.1 H98.2 V511.4 H99.2 V513.8 H100.2 V516.1 H101.2 V518.4 H102.0 V520.4 H103.6 V522.5 H105.1 V524.5 H106.7 V526.5 H107.8 V528.8 H109.9 V531.1 H117.8 V532.2 H119.0 V534.0 H121.3 V535.7 H128.2 V538.0 H134.0 V540.3 H134.7 V542.5 H136.0 V544.8 H137.4 V547.0 H138.8 V549.3 H140.1 V551.5 H141.8 V553.3 H145.2 V555.1 H148.5 V556.9 H149.7 V558.9 H152.2 V561.0 H154.6 V563.0 H157.1 V565.0 H158.4 V567.0 H161.0 V569.0 H187.9 V570.4 H195.0 V571.4 H210.6 V574.0 H227.9 V576.6 H241.7 V581.0 H242.6 V582.7 H244.3 V584.4 H266.0 V586.2 H267.7 V587.9 H278.0 V590.1 H339.2 V597.5 H432.0 V601.2 H458.4 V604.3 H491.4 V652.0 H458.0 V645.0 H431.0 V640.0 H338.0 V634.0 H273.2 V632.0 H267.8 V630.0 H265.0 V624.0 H240.0 V617.0 H212.0 V610.0 H190.0 V603.0 H158.0 V601.3 H154.1 V599.7 H150.1 V598.0 H148.1 V596.0 H144.4 V594.0 H140.6 V592.0 H138.7 V589.7 H136.2 V587.3 H133.6 V585.0 H132.3 V583.0 H130.9 V581.0 H129.5 V579.0 H128.1 V577.0 H126.7 V575.0 H126.0 V572.8 H124.1 V570.5 H122.1 V568.2 H120.1 V566.0 H119.1 V564.0 H117.4 V562.0 H115.7 V560.0 H113.9 V558.0 H112.2 V556.0 H111.4 V553.8 H110.1 V551.6 H108.8 V549.4 H107.5 V547.2 H106.2 V545.0 H105.6 V543.0 H104.7 V541.0 H103.8 V539.0 H102.9 V537.0 H102.0 V535.0 H101.5 V533.0 H100.6 V531.0 H99.7 V529.0 H98.7 V527.0 H97.8 V525.0 H97.3 V523.0 H96.0 V521.0 H94.6 V519.0 H93.3 V517.0 H91.9 V515.0 H91.2 V512.7 H89.7 V510.3 H88.2 V508.0 H87.4 V506.0 H86.3 V504.0 H85.2 V502.0 H84.1 V500.0 H83.5 V498.0 H82.5 V496.0 H81.5 V494.0 H80.5 V492.0 H79.5 V490.0 H79.0 V487.8 H77.0 V485.5 H76.0 Z" fill="#8e9acb" fill-opacity="0.25" stroke="none"/>
<path d="M76.0 485.5 H82.0 V486.0 H83.0 V487.5 H85.0 V489.0 H85.8 V490.7 H87.5 V492.3 H89.2 V494.0 H90.0 V496.0 H91.6 V498.0 H93.2 V500.0 H94.0 V502.0 H95.6 V504.0 H97.2 V506.0 H97.8 V508.2 H99.0 V510.5 H100.2 V512.8 H101.4 V515.0 H101.9 V517.4 H102.8 V519.8 H103.7 V522.2 H104.6 V524.6 H105.5 V527.0 H106.0 V529.2 H106.9 V531.4 H107.8 V533.6 H108.7 V535.8 H109.6 V538.0 H110.2 V540.0 H111.5 V542.0 H112.8 V544.0 H114.1 V546.0 H115.4 V548.0 H116.2 V550.0 H117.9 V552.0 H119.7 V554.0 H121.4 V556.0 H123.1 V558.0 H124.1 V560.2 H126.1 V562.4 H128.1 V564.6 H130.0 V566.8 H132.0 V569.0 H132.9 V571.2 H134.8 V573.3 H136.6 V575.5 H138.4 V577.7 H140.3 V579.8 H142.1 V582.0 H143.2 V584.0 H145.4 V586.0 H147.5 V588.0 H149.7 V590.0 H151.9 V592.0 H153.3 V594.0 H156.0 V596.0 H158.7 V598.0 H159.5 V599.7 H161.3 V601.3 H163.1 V603.0 H165.1 V605.0 H169.0 V607.0 H192.0 V609.0 H206.0 V614.0 H206.3 V616.0 H207.0 V618.0 H207.7 V620.0 H231.0 V623.0 H233.8 V625.0 H239.2 V627.0 H252.0 V630.0 H267.0 V633.5 H274.0 V636.0 H338.0 V641.0 H384.0 V644.0 H431.0 V648.0 H458.0 V655.0 H491.4 V672.0 H458.0 V663.6 H431.0 V660.4 H385.0 V658.8 H338.0 V651.4 H280.0 V648.5 H267.7 V641.5 H243.5 V636.3 H229.6 V631.2 H210.6 V627.7 H193.9 V626.0 H191.7 V624.2 H190.6 V618.8 H170.4 V610.8 H150.2 V602.7 H133.3 V600.4 H132.0 V598.0 H130.6 V595.7 H129.2 V593.4 H127.9 V591.0 H126.5 V588.7 H125.2 V586.3 H123.8 V584.0 H123.1 V581.6 H121.4 V579.2 H119.7 V576.8 H117.9 V574.4 H116.2 V572.0 H115.4 V569.6 H114.1 V567.2 H112.8 V564.8 H111.5 V562.4 H110.2 V560.0 H109.6 V557.6 H108.7 V555.2 H107.8 V552.8 H106.9 V550.4 H106.1 V548.0 H105.6 V545.8 H104.9 V543.7 H104.2 V541.5 H103.4 V539.3 H102.7 V537.2 H102.0 V535.0 H101.6 V532.8 H100.9 V530.7 H100.1 V528.5 H99.3 V526.3 H98.6 V524.2 H97.8 V522.0 H97.4 V519.8 H96.3 V517.5 H95.1 V515.2 H94.0 V513.0 H93.4 V511.0 H92.3 V509.0 H91.1 V507.0 H90.0 V505.0 H89.4 V503.0 H88.2 V501.0 H86.9 V499.0 H85.7 V497.0 H85.1 V494.7 H83.2 V492.3 H81.4 V490.0 H80.5 V487.8 H77.5 V485.5 H76.0 Z" fill="#f2a898" fill-opacity="0.22" stroke="none"/>
<path d="M76.0 485.5 H82.7 V498.2 H86.9 V510.3 H88.4 V521.8 H91.9 V534.5 H93.6 V547.2 H98.2 V572.1 H102.3 V584.2 H109.7 V608.5 H117.1 V633.4 H117.7 V645.5 H129.9 V658.2 H132.5 V671.0 H236.2 V689.2 H491.4" stroke="#4a1862" stroke-width="2.0" fill="none"/>
<path d="M76.0 485.5 H80.9 V485.5 H81.4 V487.0 H82.5 V488.5 H83.5 V490.0 H84.2 V492.2 H85.6 V494.3 H87.1 V496.5 H87.7 V498.0 H89.0 V499.5 H90.3 V501.0 H91.0 V502.6 H92.3 V504.1 H93.6 V505.7 H94.3 V507.9 H95.8 V510.0 H96.3 V511.6 H97.3 V513.3 H98.3 V514.9 H98.7 V516.8 H99.6 V518.6 H100.4 V520.5 H101.3 V522.4 H102.1 V524.5 H103.8 V526.5 H104.0 V528.5 H104.5 V530.5 H105.0 V532.5 H105.5 V534.5 H106.0 V536.2 H107.0 V538.0 H107.6 V539.5 H108.9 V541.1 H110.2 V542.6 H110.8 V544.5 H112.0 V546.5 H113.2 V548.4 H119.0 V550.1 H122.5 V551.8 H123.0 V553.4 H123.9 V554.9 H124.8 V556.5 H126.0 V558.2 H128.3 V559.9 H129.1 V561.6 H130.8 V563.4 H131.6 V565.5 H133.2 V567.7 H134.2 V569.5 H136.3 V571.3 H138.4 V573.1 H140.0 V574.8 H143.2 V576.4 H144.6 V577.9 H147.3 V579.5 H150.1 V581.0 H158.3 V581.6 H158.8 V583.4 H159.7 V585.2 H160.6 V587.0 H163.6 V589.0 H187.9 V589.7 H190.6 V591.7 H196.0 V592.4 H201.9 V593.6 H203.7 V595.3 H205.6 V596.8 H209.5 V598.4 H229.6 V601.4 H243.5 V605.7 H245.2 V607.4 H267.7 V611.2 H278.1 V615.2 H339.2 V621.9 H432.0 V627.5 H458.4 V633.0 H491.4" stroke="#1f4a82" stroke-width="1.9" fill="none"/>
<path d="M76.0 485.5 H80.0 V485.5 H83.2 V487.2 H84.0 V489.1 H85.5 V491.1 H87.0 V493.0 H87.7 V495.0 H89.1 V497.1 H90.5 V499.1 H91.8 V501.1 H92.5 V503.1 H93.8 V505.1 H95.1 V507.2 H96.4 V509.2 H96.8 V510.9 H97.5 V512.6 H98.3 V514.4 H99.0 V516.1 H99.2 V518.1 H99.6 V520.2 H99.9 V522.2 H100.3 V524.2 H100.6 V525.9 H101.1 V527.7 H101.6 V529.4 H102.1 V531.1 H102.3 V532.8 H102.8 V534.5 H103.3 V536.3 H103.8 V538.0 H104.2 V540.1 H105.0 V542.2 H105.9 V544.3 H106.5 V546.0 H107.8 V547.8 H109.1 V549.5 H109.5 V551.2 H110.3 V553.0 H111.0 V554.8 H111.7 V556.5 H113.0 V558.2 H115.5 V559.9 H115.9 V561.6 H116.8 V563.3 H117.7 V565.1 H118.6 V566.8 H119.8 V568.5 H122.3 V570.3 H123.1 V572.2 H124.7 V574.2 H126.3 V576.1 H126.9 V577.8 H128.2 V579.4 H129.4 V581.1 H130.1 V582.8 H131.6 V584.5 H133.1 V586.2 H134.6 V587.9 H135.9 V589.7 H138.4 V591.5 H140.9 V593.3 H150.2 V597.3 H159.6 V601.3 H160.3 V602.9 H161.6 V604.4 H162.9 V606.0 H164.8 V607.4 H168.5 V608.7 H191.9 V610.8 H201.9 V612.1 H202.8 V613.4 H204.5 V614.7 H205.1 V616.7 H206.3 V618.8 H207.4 V620.8 H231.3 V624.2 H239.1 V625.1 H239.8 V626.9 H241.0 V628.6 H252.1 V631.2 H266.8 V634.6 H274.0 V636.4 H338.2 V641.9 H383.7 V645.1 H430.5 V648.8 H458.4 V656.6 H491.4" stroke="#b80f2c" stroke-width="2.8" fill="none" stroke-dasharray="4,3.5"/>
<path d="M75.8 841 V1111" stroke="#111" stroke-width="2" fill="none"/>
<path d="M70 1110 H497.6" stroke="#111" stroke-width="2" fill="none"/>
<path d="M70 1076.5 H75.6" stroke="#111" stroke-width="2"/>
<text x="63.3" y="1081.0" font-size="15.3" text-anchor="end" font-weight="normal" font-style="normal" textLength="21.8" lengthAdjust="spacingAndGlyphs" >0.5</text>
<path d="M70 1031.5 H75.6" stroke="#111" stroke-width="2"/>
<text x="63.3" y="1036.0" font-size="15.3" text-anchor="end" font-weight="normal" font-style="normal" textLength="21.8" lengthAdjust="spacingAndGlyphs" >0.6</text>
<path d="M70 986.5 H75.6" stroke="#111" stroke-width="2"/>
<text x="63.3" y="991.0" font-size="15.3" text-anchor="end" font-weight="normal" font-style="normal" textLength="21.8" lengthAdjust="spacingAndGlyphs" >0.7</text>
<path d="M70 941.5 H75.6" stroke="#111" stroke-width="2"/>
<text x="63.3" y="946.0" font-size="15.3" text-anchor="end" font-weight="normal" font-style="normal" textLength="21.8" lengthAdjust="spacingAndGlyphs" >0.8</text>
<path d="M70 896.5 H75.6" stroke="#111" stroke-width="2"/>
<text x="63.3" y="901.0" font-size="15.3" text-anchor="end" font-weight="normal" font-style="normal" textLength="21.8" lengthAdjust="spacingAndGlyphs" >0.9</text>
<path d="M70 851.5 H75.6" stroke="#111" stroke-width="2"/>
<text x="63.3" y="856.0" font-size="15.3" text-anchor="end" font-weight="normal" font-style="normal" textLength="21.8" lengthAdjust="spacingAndGlyphs" >1.0</text>
<path d="M140.9 1110 V1115.5" stroke="#111" stroke-width="2"/>
<text x="140.9" y="1135.6" font-size="14.0" text-anchor="middle" font-weight="normal" font-style="normal" textLength="18.4" lengthAdjust="spacingAndGlyphs" >20</text>
<path d="M211.2 1110 V1115.5" stroke="#111" stroke-width="2"/>
<text x="211.2" y="1135.6" font-size="14.0" text-anchor="middle" font-weight="normal" font-style="normal" textLength="18.4" lengthAdjust="spacingAndGlyphs" >40</text>
<path d="M281.4 1110 V1115.5" stroke="#111" stroke-width="2"/>
<text x="281.4" y="1135.6" font-size="14.0" text-anchor="middle" font-weight="normal" font-style="normal" textLength="18.4" lengthAdjust="spacingAndGlyphs" >60</text>
<path d="M351.7 1110 V1115.5" stroke="#111" stroke-width="2"/>
<text x="351.7" y="1135.6" font-size="14.0" text-anchor="middle" font-weight="normal" font-style="normal" textLength="18.4" lengthAdjust="spacingAndGlyphs" >80</text>
<path d="M422.0 1110 V1115.5" stroke="#111" stroke-width="2"/>
<text x="422.0" y="1135.6" font-size="14.0" text-anchor="middle" font-weight="normal" font-style="normal" textLength="26.3" lengthAdjust="spacingAndGlyphs" >100</text>
<path d="M492.3 1110 V1115.5" stroke="#111" stroke-width="2"/>
<text x="492.3" y="1135.6" font-size="14.0" text-anchor="middle" font-weight="normal" font-style="normal" textLength="26.3" lengthAdjust="spacingAndGlyphs" >120</text>
<path d="M76.5 1076.6 H504" stroke="#111" stroke-width="1.5" stroke-dasharray="3.8,2.6"/>
<g transform="translate(29.3,976) rotate(-90)"><text x="0.0" y="0.0" font-size="18.5" text-anchor="middle" font-weight="normal" font-style="normal" textLength="39.6" lengthAdjust="spacingAndGlyphs" stroke="#1a1a1a" stroke-width="0.42" >AUC(t)</text></g>
<text x="244.2" y="1161.8" font-size="18.8" text-anchor="start" font-weight="normal" font-style="normal" textLength="28.2" lengthAdjust="spacingAndGlyphs" stroke="#1a1a1a" stroke-width="0.45" >Time</text>
<text x="278.1" y="1161.8" font-size="18.8" text-anchor="start" font-weight="normal" font-style="normal" textLength="51.5" lengthAdjust="spacingAndGlyphs" stroke="#1a1a1a" stroke-width="0.45" >[months]</text>
<text x="88" y="926.2" font-size="15" textLength="196" lengthAdjust="spacingAndGlyphs">log-rank <tspan font-style="italic">P</tspan><tspan dx="0.5">=</tspan> .342 (3y AUCs)</text>
<path d="M86.8 854.2 H104.3" stroke="#b0b38a" stroke-width="2"/>
<path d="M213.8 854.2 H231.7" stroke="#14593f" stroke-width="2"/>
<text x="111.3" y="858.6" font-size="14.0" text-anchor="start" font-weight="normal" font-style="normal" textLength="43.8" lengthAdjust="spacingAndGlyphs" >ELN17</text>
<text x="238.0" y="858.6" font-size="14.0" text-anchor="start" font-weight="normal" font-style="normal" textLength="44.5" lengthAdjust="spacingAndGlyphs" >ELN22</text>
<polyline points="90.4,1081.1 111.9,1032.8 134.2,1026.6 176.2,1037.3 196.2,1037.6 218.5,1017.3 285.5,1013.5 323.3,1016.5 364.6,1010.0 407.7,1013.9 449.2,1007.0 492.5,1018.8" stroke="#b0b38a" stroke-width="1.7" fill="none" stroke-linejoin="round"/>
<polyline points="90.4,1066.2 111.9,1027.2 135.8,1025.8 174.6,1029.6 197.7,1028.5 217.7,1015.5 284.8,1011.0 323.3,1017.7 364.6,1014.2 407.7,1017.6 449.2,1011.2 493.1,1012.5" stroke="#14593f" stroke-width="2" fill="none" stroke-linejoin="round"/>
<rect x="0.5" y="0.5" width="519" height="1180" fill="none" stroke="#000" stroke-width="1.1"/>
</svg></body></html>
